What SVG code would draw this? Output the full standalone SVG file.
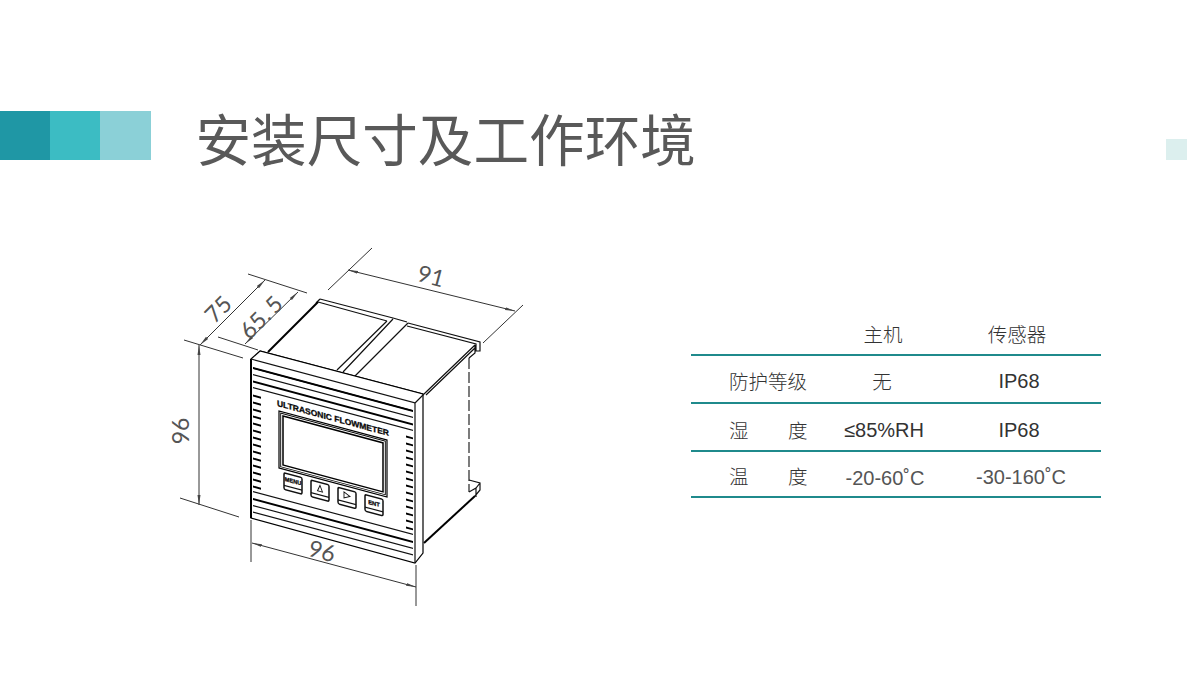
<svg xmlns="http://www.w3.org/2000/svg" width="1187" height="695" viewBox="0 0 1187 695">
<style>
.cjk{font-family:"Noto Sans CJK SC","Noto Sans",sans-serif;font-weight:300;fill:#333;font-size:19.5px}
.lat{font-family:"Liberation Sans",Arial,sans-serif;fill:#333;font-size:20px}
.m{text-anchor:middle}
.dimt{font-family:"Lato","Open Sans",sans-serif;font-weight:400;font-size:23px;fill:#555;text-anchor:middle}
.dim{stroke:#333;stroke-width:1;fill:none}
.arr{marker-start:url(#a);marker-end:url(#a)}
.l{stroke:#111;stroke-width:1.2;fill:none}
.b{stroke:#000;stroke-width:2;fill:none}
.rule{stroke:#1f8a8c;stroke-width:2}
.btn{fill:#fff;stroke:#111;stroke-width:1.5}
.bt{font-family:"Liberation Sans",Arial,sans-serif;font-weight:700;fill:#000;stroke:#000;stroke-width:.3;text-anchor:middle;opacity:.97}
</style>
<defs>
<marker id="a" markerWidth="10" markerHeight="5" refX="10" refY="2.5" orient="auto-start-reverse" markerUnits="userSpaceOnUse"><path d="M0 1L10 2.5L0 4Z" fill="#444"/></marker>
</defs>
<rect width="1187" height="695" fill="#fff"/>
<g id="header">
<rect x="0" y="111" width="50" height="49" fill="#1f97a5"/>
<rect x="50" y="111" width="50" height="49" fill="#3cbcc3"/>
<rect x="100" y="111" width="51" height="49" fill="#8bd0d7"/>
<rect x="1166" y="139" width="21" height="21" fill="#dcefee"/>
<text x="195.500" y="161" style="font-family:'Noto Sans CJK SC','Noto Sans',sans-serif;font-size:55.6px;fill:#595959;font-weight:400">安装尺寸及工作环境</text>
</g>
<g id="device">
<g id="device-side">
<path class="l" d="M260 351L423 394M355 376L408 323M343 372L393 319M337 370L387 321M393 318L407 322M320 299L393 318M318 302L387 321M320 299L316 303"/>
<path class="b" d="M268 352L318 302"/>
<path class="l" d="M408 323L480 342V351L476 351V344L407 326M424 394L475 345M426 395L476 347M475 345V353L469 358"/>
<path d="M469 358V492" stroke="#111" stroke-width="1.100" stroke-dasharray="11 3" fill="none"/>
<path class="l" d="M469 480L480 483V490L475 496M469 492L476 488L480 483M476 488V497"/>
<path class="b" d="M424 543L475 496"/>
</g>
<g id="device-front">
<path d="M251 359L260 351L423 394V553L415 563L251 518Z" fill="#fff" stroke="#000" stroke-width="1.200"/>
<path class="l" d="M415 403V563M415 403L424 394"/>
<path class="b" d="M251 359V518"/>
<g transform="translate(251 359) skewY(15)">
<path class="l" d="M0 0H164"/>
<path class="l" d="M2 8.500H162M2 15H162M2 28H162M2 146H162M2 152.500H162M2 132H162"/>
<path class="b" d="M2 22H162M2 139.500H162M2 8.500H162"/>
<path stroke="#000" stroke-width="1.900" fill="none" d="M2 36h8M2 43h8M2 50h8M2 57h8M2 64h8M2 71h8M2 78h8M2 85h8M2 92h8M2 99h8M2 106h8M2 113h8M2 120h8M2 127h8M155 36h7M155 43h7M155 50h7M155 57h7M155 64h7M155 71h7M155 78h7M155 85h7M155 92h7M155 99h7M155 106h7M155 113h7M155 120h7M155 127h7"/>
<g id="display" fill="none" stroke="#000">
<rect x="28" y="44.500" width="108" height="57" stroke-width="1.200"/>
<rect x="29.700" y="46.200" width="104.600" height="53.600" stroke-width=".9"/>
<rect x="32" y="48.500" width="100" height="49" stroke-width="1.500"/>
</g>
<text x="82" y="40" class="bt" font-size="8.200" textLength="112" lengthAdjust="spacingAndGlyphs">ULTRASONIC FLOWMETER</text>
<g id="btn-menu"><rect class="btn" x="33" y="105" width="18" height="16.500" rx="1.500"/><path class="l" d="M33 117.500H51"/><text x="42" y="113" class="bt" font-size="5.800" textLength="16.500" lengthAdjust="spacingAndGlyphs">MENU</text></g>
<g id="btn-up"><rect class="btn" x="60" y="105" width="18" height="16.500" rx="1.500"/><path class="l" d="M60 117.500H78"/><path d="M66.500 114L69 108L71.500 114Z" fill="none" stroke="#111" stroke-width=".9"/></g>
<g id="btn-right"><rect class="btn" x="87" y="105" width="18" height="16.500" rx="1.500"/><path class="l" d="M87 117.500H105"/><path d="M93 108L99 111L93 114Z" fill="none" stroke="#111" stroke-width=".9"/></g>
<g id="btn-ent"><rect class="btn" x="114" y="105" width="18" height="16.500" rx="1.500"/><path class="l" d="M114 117.500H132"/><text x="123" y="113.500" class="bt" font-size="5.800">ENT</text></g>
</g>
</g>
</g>
<g id="connectors">
<path class="dim" d="M328 290L372 248M483 343L523 305M248 274L307 293M184 340L243 358M218 337L258 350M180 498L239 517M251 520V562M416 565V606"/>
<path class="dim arr" d="M348 270L515 311"/>
<path class="dim arr" d="M200 345L265 280"/>
<path class="dim arr" d="M245 344L298 292"/>
<path class="dim arr" d="M199 345V505"/>
<path class="dim arr" d="M252 543L416 587"/>
</g>
<g id="dim-labels">
<text class="dimt" transform="translate(224 315) rotate(-45)">75</text>
<text class="dimt" transform="translate(267 323) rotate(-45)">65.<tspan dx="4">5</tspan></text>
<text class="dimt" transform="translate(429 284) rotate(15)">91</text>
<text class="dimt" transform="translate(189 431) rotate(-90)">96</text>
<text class="dimt" transform="translate(320 559) rotate(15)">96</text>
</g>
<g id="table">
<line class="rule" x1="691" y1="355" x2="1101" y2="355"/>
<line class="rule" x1="691" y1="403" x2="1101" y2="403"/>
<line class="rule" x1="691" y1="451" x2="1101" y2="451"/>
<line class="rule" x1="691" y1="497" x2="1101" y2="497"/>
<text class="cjk m" x="883" y="342">主机</text>
<text class="cjk m" x="1017" y="342">传感器</text>
<text class="cjk" x="729" y="389">防护等级</text>
<text class="cjk m" x="882" y="389">无</text>
<text class="lat m" x="1019" y="388">IP68</text>
<text class="cjk" x="729" y="438">湿</text>
<text class="cjk" x="788" y="438">度</text>
<text class="lat m" x="884" y="437">≤85%RH</text>
<text class="lat m" x="1019" y="437">IP68</text>
<text class="cjk" x="729" y="484">温</text>
<text class="cjk" x="788" y="484">度</text>
<text class="lat m" x="885" y="485" style="fill:#555">-20-60˚C</text>
<text class="lat m" x="1021" y="484" style="fill:#555">-30-160˚C</text>
</g>
</svg>
